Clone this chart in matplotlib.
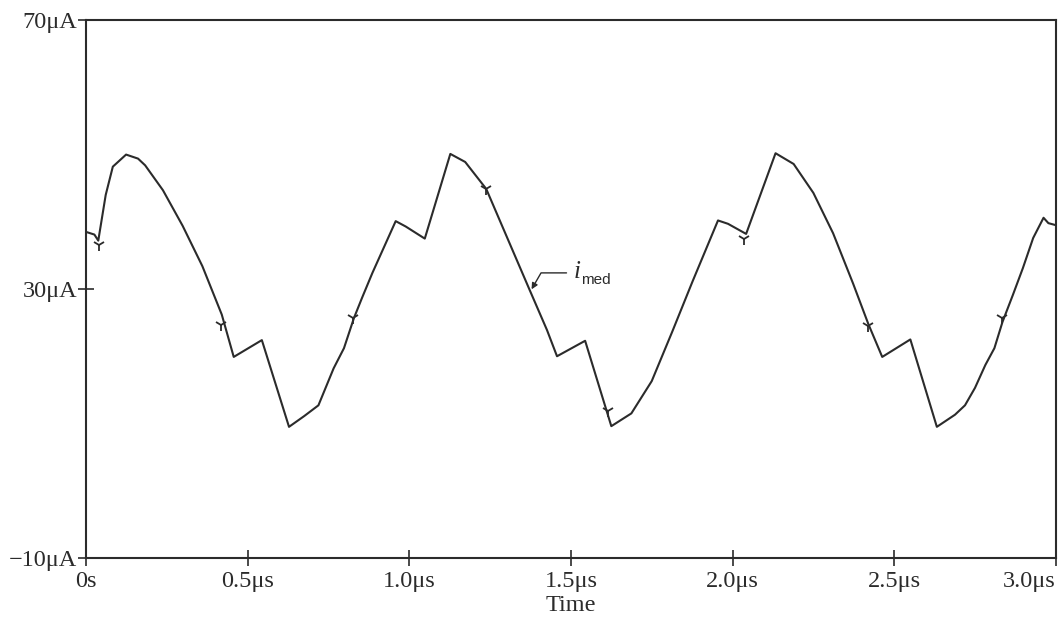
import matplotlib
matplotlib.use('Agg')
import matplotlib.pyplot as plt

plt.rcParams['font.family'] = ['Liberation Serif', 'DejaVu Serif']

# waveform i_med (time in us, current in uA)
t_us = [0.000, 0.026, 0.038, 0.061, 0.083, 0.124, 0.161, 0.183, 0.238, 0.299,
        0.360, 0.420, 0.457, 0.544, 0.628, 0.675, 0.719, 0.766, 0.798, 0.829,
        0.854, 0.886, 0.958, 0.989, 1.048, 1.127, 1.173, 1.238, 1.305, 1.372,
        1.426, 1.457, 1.544, 1.625, 1.687, 1.750, 1.813, 1.876, 1.955, 1.986,
        2.042, 2.133, 2.189, 2.250, 2.311, 2.373, 2.420, 2.463, 2.550, 2.632,
        2.688, 2.719, 2.750, 2.782, 2.810, 2.835, 2.867, 2.898, 2.930, 2.962,
        2.977, 3.000]
i_ua = [38.5, 38.1, 37.2, 44.0, 48.2, 50.0, 49.4, 48.4, 44.7, 39.4,
        33.4, 26.2, 19.9, 22.4, 9.5, 11.1, 12.7, 18.2, 21.2, 25.7,
        28.7, 32.4, 40.1, 39.3, 37.5, 50.1, 48.9, 44.9, 37.4, 29.9,
        23.9, 20.0, 22.3, 9.6, 11.5, 16.3, 23.6, 31.1, 40.2, 39.7,
        38.2, 50.2, 48.6, 44.3, 38.3, 30.8, 24.8, 19.9, 22.5, 9.5,
        11.3, 12.7, 15.3, 18.7, 21.2, 25.1, 29.1, 33.1, 37.6, 40.6,
        39.8, 39.5]

# trace markers along the curve
mark_t = [0.041, 0.417, 0.826, 1.238, 1.614, 2.035, 2.420, 2.833]
mark_i = [36.6, 24.7, 25.7, 44.9, 11.8, 37.4, 24.5, 25.7]

x_ticks = [0.0, 0.5, 1.0, 1.5, 2.0, 2.5, 3.0]
x_labels = ['0s', '0.5\u03bcs', '1.0\u03bcs', '1.5\u03bcs', '2.0\u03bcs', '2.5\u03bcs', '3.0\u03bcs']
y_ticks = [-10, 30, 70]
y_labels = ['\u221210\u03bcA', '30\u03bcA', '70\u03bcA']

ink = '#2b2b2b'

fig = plt.figure(figsize=(10.59, 6.29), dpi=100)
ax = fig.add_axes([0.0812, 0.113, 0.9158, 0.855])

ax.plot(t_us, i_ua, color=ink, lw=1.5)
ax.plot(mark_t, mark_i, ls='none', marker='1', ms=9, mew=1.3, color=ink)

ax.set_xlim(0, 3.0)
ax.set_ylim(-10, 70)
ax.set_xticks(x_ticks)
ax.set_xticklabels(x_labels)
ax.set_yticks(y_ticks)
ax.set_yticklabels(y_labels)
ax.tick_params(axis='both', direction='inout', length=11, width=1.2,
               colors=ink, labelsize=17.5)
ax.tick_params(axis='x', pad=4)
ax.tick_params(axis='y', pad=1)
# last label sits inside the figure, as in the original
ax.get_xticklabels()[-1].set_horizontalalignment('right')
for sp in ax.spines.values():
    sp.set_color(ink)
    sp.set_linewidth(1.5)

ax.set_xlabel('Time', fontsize=17.5, color=ink, labelpad=2)

# curve label with leader
ax.annotate('', xy=(1.374, 29.6), xytext=(1.495, 32.4),
            arrowprops=dict(arrowstyle='-|>', color=ink, lw=1.0,
                            mutation_scale=9,
                            connectionstyle='angle,angleA=0,angleB=60,rad=0'))
ax.text(1.508, 32.6, 'i', style='italic', fontsize=18, color=ink,
        ha='left', va='center')
ax.text(1.530, 31.3, 'med', family='Liberation Sans', fontsize=11, color=ink,
        ha='left', va='center')

fig.savefig('out.png', dpi=100)
